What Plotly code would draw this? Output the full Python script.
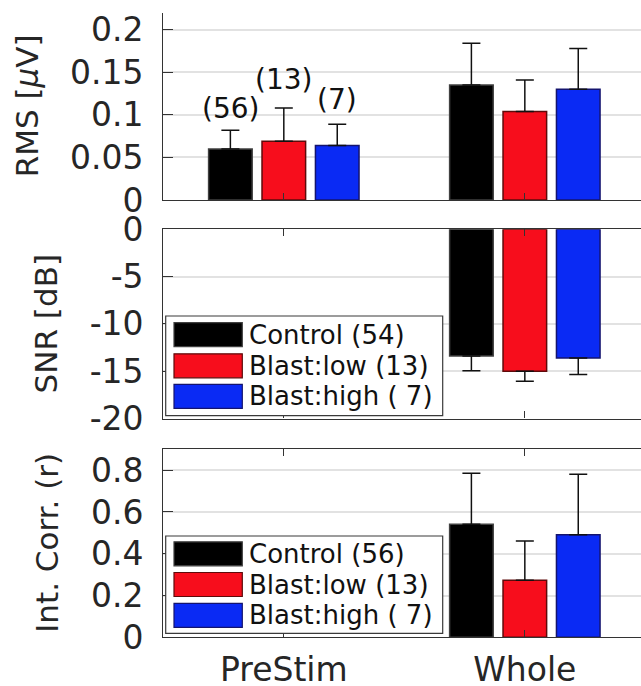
import plotly.graph_objects as go

# ---------------- data ----------------
categories = ["PreStim", "Whole"]
group_names = ["Control", "Blast:low", "Blast:high"]
bar_colors = ["#000000", "#f70d1c", "#0a2af4"]
edge_colors = ["#404040", "#5e0a0a", "#14146e"]

rms_control = [0.060, 0.135]
rms_control_err = [0.022, 0.049]
rms_low = [0.069, 0.104]
rms_low_err = [0.039, 0.037]
rms_high = [0.064, 0.130]
rms_high_err = [0.025, 0.048]
rms_n_labels = ["(56)", "(13)", "(7)"]

snr_control = [None, -13.4]
snr_control_err = [None, 1.55]
snr_low = [None, -15.0]
snr_low_err = [None, 1.05]
snr_high = [None, -13.6]
snr_high_err = [None, 1.75]
snr_legend = ["Control (54)", "Blast:low (13)", "Blast:high ( 7)"]

corr_control = [None, 0.541]
corr_control_err = [None, 0.244]
corr_low = [None, 0.273]
corr_low_err = [None, 0.188]
corr_high = [None, 0.491]
corr_high_err = [None, 0.289]
corr_legend = ["Control (56)", "Blast:low (13)", "Blast:high ( 7)"]

rms_ticks = [0, 0.05, 0.1, 0.15, 0.2]
rms_ticktext = ["0", "0.05", "0.1", "0.15", "0.2"]
snr_ticks = [-20, -15, -10, -5, 0]
snr_ticktext = ["-20", "-15", "-10", "-5", "0"]
corr_ticks = [0, 0.2, 0.4, 0.6, 0.8]
corr_ticktext = ["0", "0.2", "0.4", "0.6", "0.8"]

# ---------------- layout geometry ----------------
W, H = 641, 686
FONT = "DejaVu Sans"
AX = "#333333"
GRID = "#e2e2e2"


def px_x(x):
    return x / W


def px_y(y):
    return 1 - y / H


BARGAP = 0.335
BARGROUPGAP = 0.184

fig = go.Figure()

panels = [
    ("x", "y", [rms_control, rms_low, rms_high], [rms_control_err, rms_low_err, rms_high_err], True),
    ("x2", "y2", [snr_control, snr_low, snr_high], [snr_control_err, snr_low_err, snr_high_err], False),
    ("x3", "y3", [corr_control, corr_low, corr_high], [corr_control_err, corr_low_err, corr_high_err], True),
]

for xa, ya, vals, errs, up in panels:
    for i in range(3):
        e = errs[i]
        zeros = [0 if v is not None else None for v in e]
        fig.add_trace(go.Bar(
            x=categories, y=vals[i], xaxis=xa, yaxis=ya,
            name=group_names[i], showlegend=False,
            marker=dict(color=bar_colors[i], line=dict(color=edge_colors[i], width=1.5)),
            error_y=dict(type="data", symmetric=False,
                         array=e if up else zeros,
                         arrayminus=zeros if up else e,
                         color="#111111", thickness=1.5, width=9),
        ))

xrange = [-0.5, 1.482]
xdom = [px_x(163.3), 1.0]
common_x = dict(range=xrange, domain=xdom, showgrid=False, zeroline=False,
                showline=True, linecolor=AX, linewidth=1.2, ticks="inside",
                ticklen=7, tickcolor=AX, tickwidth=1.2, type="category",
                automargin=False)
common_y = dict(showgrid=True, gridcolor=GRID, gridwidth=1.5, zeroline=False,
                showline=True, linecolor=AX, linewidth=1.2, ticks="inside",
                ticklen=10, tickcolor=AX, tickwidth=1.2,
                tickfont=dict(family=FONT, size=33, color="#262626"),
                ticklabelstandoff=12, automargin=False)

fig.update_layout(
    width=W, height=H,
    margin=dict(l=0, r=0, t=0, b=0),
    paper_bgcolor="white", plot_bgcolor="white",
    barmode="group", bargap=BARGAP, bargroupgap=BARGROUPGAP,
    showlegend=False,
    xaxis=dict(**common_x, anchor="y", mirror=False, showticklabels=False),
    xaxis2=dict(**common_x, anchor="y2", mirror="ticks", showticklabels=False),
    xaxis3=dict(**common_x, anchor="y3", mirror="ticks", showticklabels=True,
                tickfont=dict(family=FONT, size=33, color="#262626"),
                ticklabelstandoff=3),
    yaxis=dict(**common_y, anchor="x", domain=[px_y(200), px_y(12.7)],
               range=[0, 0.22], tickvals=rms_ticks, ticktext=rms_ticktext),
    yaxis2=dict(**common_y, anchor="x2", domain=[px_y(418.5), px_y(229.3)],
                range=[-20, 0], tickvals=snr_ticks, ticktext=snr_ticktext),
    yaxis3=dict(**common_y, anchor="x3", domain=[px_y(637.3), px_y(449.3)],
                range=[0, 0.9], tickvals=corr_ticks, ticktext=corr_ticktext),
)

annotations = []
shapes = []

# sample-size labels over PreStim bars
slot = (1 - BARGAP) / 3
rms_vals = [rms_control, rms_low, rms_high]
rms_errs = [rms_control_err, rms_low_err, rms_high_err]
label_pad_px = [3, 10, 6]
for i in range(3):
    annotations.append(dict(
        x=(i - 1) * slot, y=rms_vals[i][0] + rms_errs[i][0], xref="x", yref="y",
        text=rms_n_labels[i], showarrow=False, yanchor="bottom", xanchor="center",
        yshift=label_pad_px[i], font=dict(family=FONT, size=28, color="#111111")))

# y-axis titles
ytitles = [("RMS [<i>μ</i>V]", 27, "y"), ("SNR [dB]", 45.5, "y2"), ("Int. Corr. (r)", 47.5, "y3")]
for txt, xp, yr in ytitles:
    annotations.append(dict(
        x=px_x(xp), y=0.5, xref="paper", yref=f"{yr} domain", text=txt,
        textangle=-90, showarrow=False, xanchor="center", yanchor="middle",
        font=dict(family=FONT, size=31, color="#262626")))

# legends drawn as boxes
legends = [
    (snr_legend, 316, 415.7, [334.7, 365.8, 396.3]),
    (corr_legend, 536, 633.3, [553.8, 584.5, 615.3]),
]
for labels, top, bottom, rows in legends:
    shapes.append(dict(type="rect", xref="paper", yref="paper",
                       x0=px_x(165.7), x1=px_x(442.7), y0=px_y(bottom), y1=px_y(top),
                       fillcolor="white", line=dict(color="#3a3a3a", width=1.2), layer="above"))
    for i, yc in enumerate(rows):
        shapes.append(dict(type="rect", xref="paper", yref="paper",
                           x0=px_x(174), x1=px_x(242.3), y0=px_y(yc + 12), y1=px_y(yc - 12),
                           fillcolor=bar_colors[i], line=dict(color=edge_colors[i], width=1.2),
                           layer="above"))
        annotations.append(dict(
            x=px_x(247), y=px_y(yc), xref="paper", yref="paper", text=labels[i],
            showarrow=False, xanchor="left", yanchor="middle",
            font=dict(family=FONT, size=26, color="#111111")))

fig.update_layout(annotations=annotations, shapes=shapes)

fig.write_html("out.html")
